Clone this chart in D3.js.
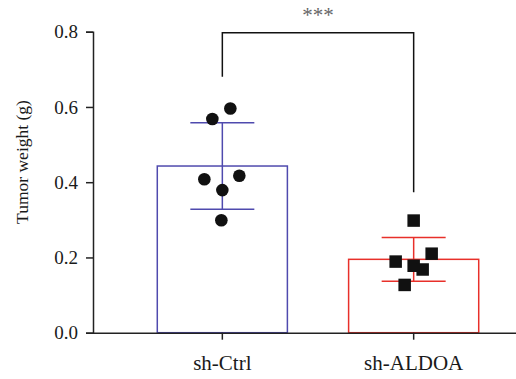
<!DOCTYPE html>
<html>
<head>
<meta charset="utf-8">
<script src="https://cdn.jsdelivr.net/npm/d3@7"></script>
<style>
  body { margin: 0; background: #fff; }
  text { font-family: "Liberation Serif", "DejaVu Serif", serif; }
</style>
</head>
<body>
<svg id="chart" width="516" height="379"></svg>
<script>
const categories = ["sh-Ctrl", "sh-ALDOA"];
const means = [0.443, 0.195];
const sds = [0.115, 0.058];
const ctrlPoints = [0.596, 0.568, 0.417, 0.408, 0.379, 0.299];
const aldoaPoints = [0.298, 0.210, 0.189, 0.178, 0.168, 0.127];
// horizontal jitter of points, in px relative to group centre
const ctrlJitter = [8, -10, 17, -18, 0, -1];
const aldoaJitter = [0, 18, -18, 0, 9, -9];
const yTicks = [0.0, 0.2, 0.4, 0.6, 0.8];
const colors = ["#4f4aae", "#e8302a"];

const svg = d3.select("#chart");

const x = d3.scaleBand()
  .domain(categories)
  .range([93, 543])
  .paddingInner(0.32)
  .paddingOuter(0.336);

const y = d3.scaleLinear()
  .domain([0, 0.8])
  .range([332.7, 31.7]);

// bars
svg.selectAll("rect.bar")
  .data(categories)
  .enter()
  .append("rect")
  .attr("class", "bar")
  .attr("x", d => x(d))
  .attr("y", (d, i) => y(means[i]))
  .attr("width", x.bandwidth())
  .attr("height", (d, i) => y(0) - y(means[i]))
  .attr("fill", "none")
  .attr("stroke", (d, i) => colors[i])
  .attr("stroke-width", 1.5);

// error bars
const capHalf = 32;
categories.forEach((c, i) => {
  const cx = x(c) + x.bandwidth() / 2;
  const g = svg.append("g").attr("stroke", colors[i]).attr("stroke-width", 1.5);
  g.append("line").attr("x1", cx).attr("x2", cx)
    .attr("y1", y(means[i] - sds[i])).attr("y2", y(means[i] + sds[i]));
  [means[i] - sds[i], means[i] + sds[i]].forEach(v => {
    g.append("line").attr("x1", cx - capHalf).attr("x2", cx + capHalf)
      .attr("y1", y(v)).attr("y2", y(v));
  });
});

// axes
const yAxis = svg.append("g")
  .attr("transform", "translate(93,0)")
  .call(d3.axisLeft(y).tickValues(yTicks).tickFormat(d3.format(".1f")).tickSizeOuter(0).tickSize(7).tickPadding(8));
yAxis.select(".domain").attr("stroke", "#222").attr("stroke-width", 1.5);
yAxis.selectAll(".tick line").attr("stroke", "#222").attr("stroke-width", 1.5);
yAxis.selectAll(".tick text").attr("font-size", 19).attr("fill", "#1a1a1a")
  .style("font-family", "'Liberation Serif', serif");

const xAxis = svg.append("g")
  .attr("transform", "translate(0," + y(0) + ")")
  .call(d3.axisBottom(x).tickSizeOuter(0).tickSize(7).tickPadding(15));
xAxis.select(".domain").attr("d", "M93,0.5H516").attr("stroke", "#222").attr("stroke-width", 1.5);
xAxis.selectAll(".tick line").attr("stroke", "#222").attr("stroke-width", 1.5);
xAxis.selectAll(".tick text").attr("font-size", 21).attr("fill", "#1a1a1a")
  .style("font-family", "'Liberation Serif', serif");

svg.append("text")
  .attr("transform", "translate(28,162) rotate(-90)")
  .attr("text-anchor", "middle")
  .attr("font-size", 17.5)
  .attr("fill", "#1a1a1a")
  .text("Tumor weight (g)");

// data points
const cx0 = x(categories[0]) + x.bandwidth() / 2;
const cx1 = x(categories[1]) + x.bandwidth() / 2;
svg.selectAll("circle.pt")
  .data(ctrlPoints)
  .enter()
  .append("circle")
  .attr("class", "pt")
  .attr("cx", (d, i) => cx0 + ctrlJitter[i])
  .attr("cy", d => y(d))
  .attr("r", 6.3)
  .attr("fill", "#111");

const sq = 12.5;
svg.selectAll("rect.pt")
  .data(aldoaPoints)
  .enter()
  .append("rect")
  .attr("class", "pt")
  .attr("x", (d, i) => cx1 + aldoaJitter[i] - sq / 2)
  .attr("y", d => y(d) - sq / 2)
  .attr("width", sq)
  .attr("height", sq)
  .attr("fill", "#111");

// significance bracket
const bracketY = y(0.797);
svg.append("path")
  .attr("d", `M${cx0},${y(0.68)}V${bracketY}H${cx1}V${y(0.373)}`)
  .attr("fill", "none")
  .attr("stroke", "#111")
  .attr("stroke-width", 1.5);
svg.append("text")
  .attr("x", (cx0 + cx1) / 2)
  .attr("y", 22)
  .attr("text-anchor", "middle")
  .attr("font-size", 21)
  .attr("fill", "#666")
  .text("***");
</script>
</body>
</html>
